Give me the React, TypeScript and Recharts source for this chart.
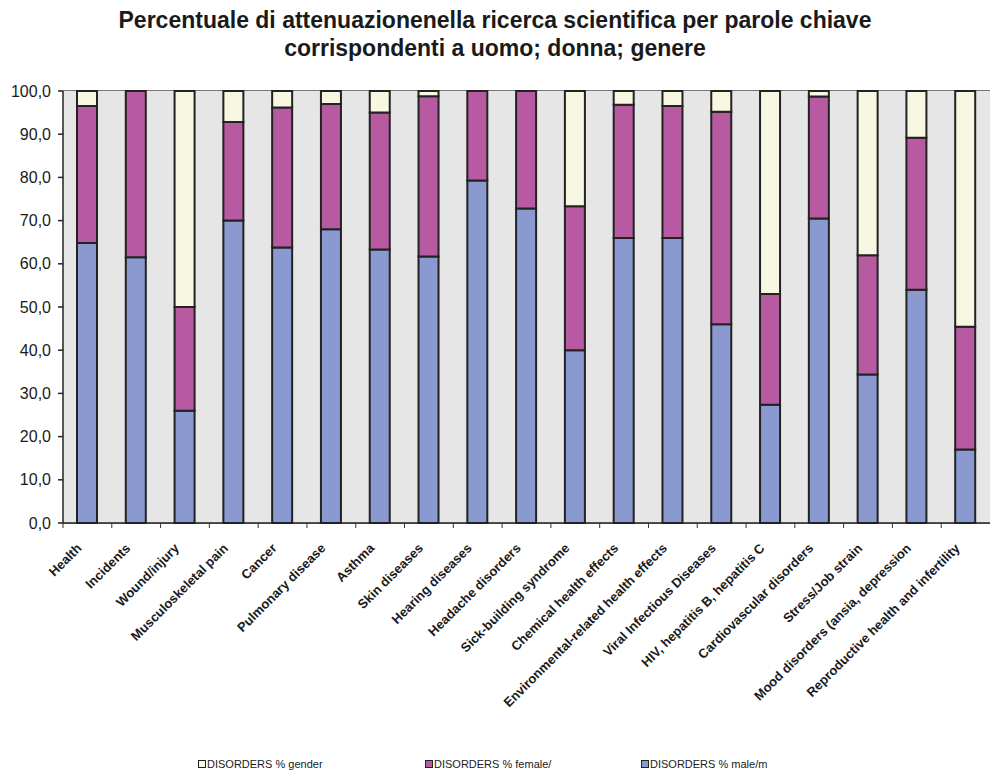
import { Bar, BarChart, CartesianGrid, XAxis, YAxis } from "recharts";

const CATEGORIES = [
  "Health",
  "Incidents",
  "Wound/injury",
  "Musculoskeletal pain",
  "Cancer",
  "Pulmonary disease",
  "Asthma",
  "Skin diseases",
  "Hearing diseases",
  "Headache disorders",
  "Sick-building syndrome",
  "Chemical health effects",
  "Environmental-related health effects",
  "Viral Infectious Diseases",
  "HIV, hepatitis B, hepatitis C",
  "Cardiovascular disorders",
  "Stress/Job strain",
  "Mood disorders (ansia, depression",
  "Reproductive health and infertility",
];

const MALE = [64.8, 61.5, 26.0, 70.0, 63.8, 68.0, 63.3, 61.7, 79.3, 72.8, 40.0, 66.0, 66.0, 46.0, 27.4, 70.5, 34.4, 54.0, 17.0];
const FEMALE = [31.7, 38.5, 24.0, 22.8, 32.4, 29.0, 31.7, 37.1, 20.7, 27.2, 33.3, 30.8, 30.5, 49.2, 25.6, 28.2, 27.6, 35.2, 28.4];
const GENDER = [3.5, 0, 50.0, 7.2, 3.8, 3.0, 5.0, 1.2, 0, 0, 26.7, 3.2, 3.5, 4.8, 47.0, 1.3, 38.0, 10.8, 54.6];

const Y_TICKS = [0, 10, 20, 30, 40, 50, 60, 70, 80, 90, 100];

const COLORS = {
  gender: "#f8f7e2",
  female: "#b85aa2",
  male: "#8a9ad0",
};

const data = CATEGORIES.map((name, i) => ({
  name,
  male: MALE[i],
  female: FEMALE[i],
  gender: GENDER[i],
}));

const FONT = "'Liberation Sans', Arial, sans-serif";
const CHART_W = 990;
const CHART_H = 773;
const PLOT_LEFT = 63;
const PLOT_RIGHT = 0;
const STEP = (CHART_W - PLOT_LEFT - PLOT_RIGHT) / CATEGORIES.length;

function XTick(props: any) {
  const { x, y, payload } = props;
  const ax = x - 5;
  const ay = y + 18;
  return (
    <g>
      <line x1={x - STEP / 2} y1={y - 8} x2={x - STEP / 2} y2={y - 3} stroke="#333" />
      <text
        x={ax}
        y={ay}
        transform={`rotate(-45, ${ax}, ${ay})`}
        textAnchor="end"
        fontSize={13}
        fontWeight="bold"
        fontFamily={FONT}
        fill="#1a1a1a"
      >
        {payload.value}
      </text>
    </g>
  );
}

function LegendItem({ color, label, left }: { color: string; label: string; left: number }) {
  return (
    <div
      style={{
        position: "absolute",
        left,
        top: 758,
        display: "flex",
        alignItems: "center",
        fontFamily: FONT,
        fontSize: 11,
        color: "#1a1a1a",
      }}
    >
      <span
        style={{
          display: "inline-block",
          width: 6,
          height: 6,
          background: color,
          border: "1.5px solid #222",
          marginRight: 1,
        }}
      />
      {label}
    </div>
  );
}

export default function App() {
  return (
    <div
      style={{
        position: "absolute",
        left: 0,
        top: 0,
        width: CHART_W,
        height: CHART_H,
        background: "#fff",
      }}
    >
      <div
        style={{
          position: "absolute",
          left: 0,
          top: 6,
          width: CHART_W,
          textAlign: "center",
          fontFamily: FONT,
          fontWeight: "bold",
          fontSize: 23,
          lineHeight: "28px",
          color: "#1a1a1a",
        }}
      >
        Percentuale di attenuazionenella ricerca scientifica per parole chiave
        <br />
        corrispondenti a uomo; donna; genere
      </div>
      <div style={{ position: "absolute", left: 0, top: 0 }}>
        <BarChart
          width={CHART_W}
          height={CHART_H}
          data={data}
          margin={{ top: 91, right: PLOT_RIGHT, bottom: 250 - 30, left: 0 }}
          barSize={20}
        >
          <rect x={PLOT_LEFT} y={91} width={CHART_W - PLOT_LEFT} height={432} fill="#e6e6e6" />
          <CartesianGrid vertical={false} stroke="#4a4a4a" strokeWidth={1} />
          <XAxis
            dataKey="name"
            interval={0}
            height={30}
            stroke="#222"
            strokeWidth={1.5}
            tickLine={false}
            tick={<XTick />}
          />
          <YAxis
            width={PLOT_LEFT}
            domain={[0, 100]}
            ticks={Y_TICKS}
            stroke="#222"
            strokeWidth={1.5}
            tickSize={5}
            tickMargin={7}
            tick={{ fill: "#1a1a1a", fontSize: 16, fontFamily: FONT }}
            tickFormatter={(v: number) => v.toFixed(1).replace(".", ",")}
          />
          <Bar dataKey="male" stackId="a" fill={COLORS.male} stroke="#222" strokeWidth={2} isAnimationActive={false} />
          <Bar dataKey="female" stackId="a" fill={COLORS.female} stroke="#222" strokeWidth={2} isAnimationActive={false} />
          <Bar dataKey="gender" stackId="a" fill={COLORS.gender} stroke="#222" strokeWidth={2} isAnimationActive={false} />
        </BarChart>
      </div>
      <LegendItem color={COLORS.gender} label="DISORDERS % gender" left={198} />
      <LegendItem color={COLORS.female} label="DISORDERS % female/" left={425} />
      <LegendItem color={COLORS.male} label="DISORDERS % male/m" left={641} />
    </div>
  );
}
